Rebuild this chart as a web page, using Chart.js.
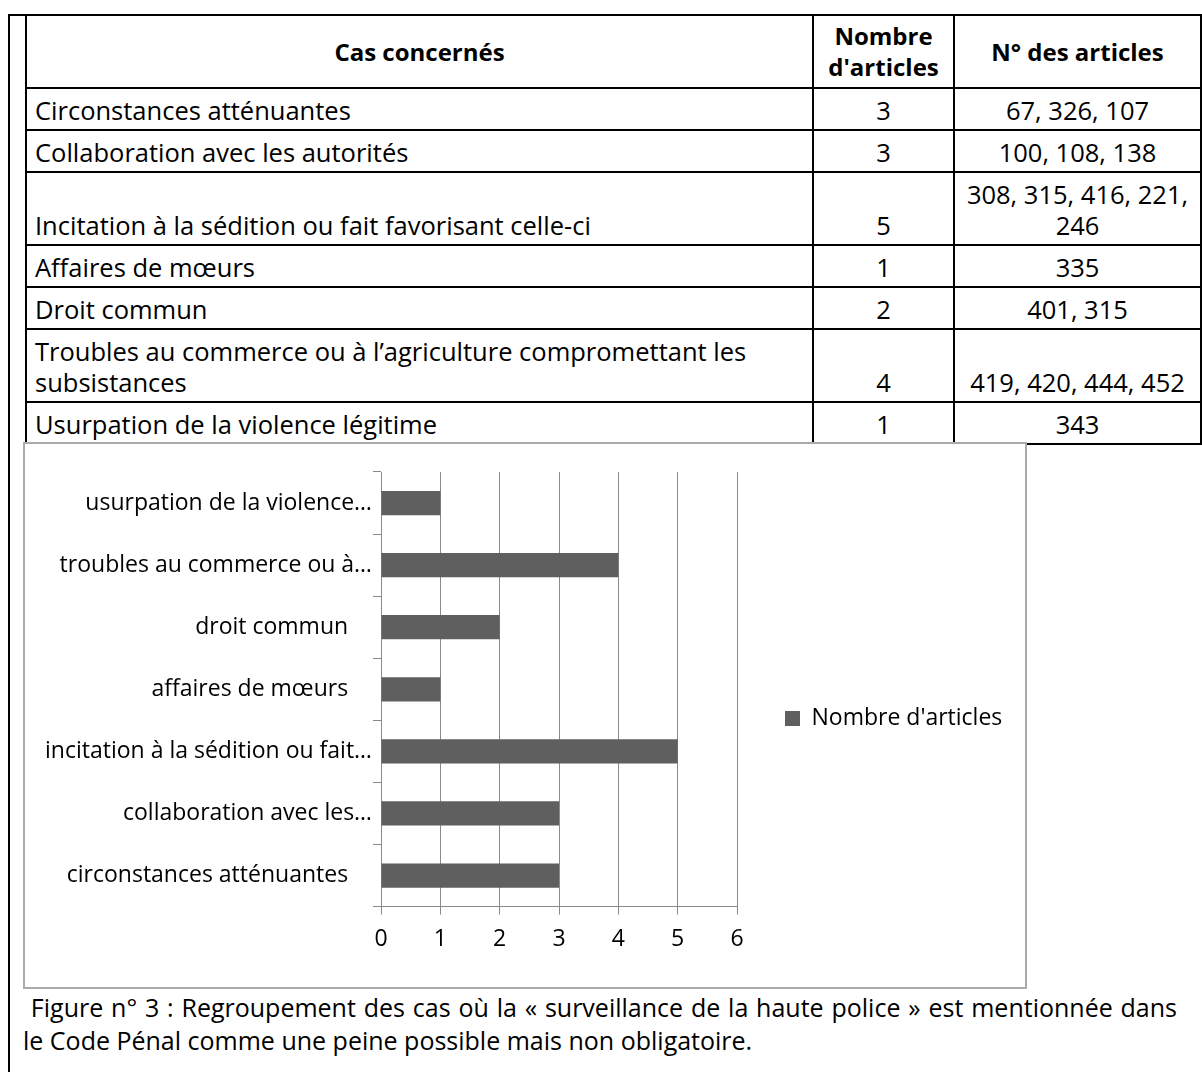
<!DOCTYPE html>
<html lang="fr">
<head>
  <meta charset="UTF-8" />
  <title>Surveillance de la haute police</title>
  <script src="https://cdn.jsdelivr.net/npm/chart.js"></script>
  <style>
    body { margin: 0; background: #fff; font-family: "Open Sans", sans-serif; color: #000; }
    #frame { position: absolute; left: 8px; top: 14px; width: 1300px; height: 1200px;
             border-left: 2px solid #000; border-top: 2px solid #000; }
    table { position: absolute; left: 25px; top: 14px; border-collapse: collapse;
            table-layout: fixed; width: 1175px; font-size: 25.5px; line-height: 31px; }
    td, th { border: 2px solid #000; padding: 6px 8px 3px 8px; vertical-align: bottom; white-space: nowrap; }
    th { vertical-align: middle; text-align: center; font-weight: bold; font-size: 24px; padding: 4px 4px 5px 4px; }
    td.c { text-align: center; }
    #chartBox { position: absolute; left: 23px; top: 442px; width: 1000px; height: 543px;
                border: 2px solid #ababab; background: #fff; }
    #caption { position: absolute; left: 23px; top: 991px; width: 1154px; font-size: 25px; line-height: 33px; }
    #caption .l1 { text-align: justify; text-align-last: justify; white-space: normal; }
    #caption .l2 { white-space: nowrap; }
  </style>
</head>
<body>
  <div id="frame"></div>
  <table id="casTable">
    <colgroup><col style="width:787px"><col style="width:141px"><col style="width:247px"></colgroup>
    <thead>
      <tr><th>Cas concernés</th><th>Nombre<br>d'articles</th><th>N° des articles</th></tr>
    </thead>
    <tbody></tbody>
  </table>
  <div id="chartBox"><canvas id="casChart" width="1000" height="543"></canvas></div>
  <div id="caption">
    <div class="l1">&nbsp;Figure n° 3 : Regroupement des cas où la « surveillance de la haute police » est mentionnée dans</div>
    <div class="l2">le Code Pénal comme une peine possible mais non obligatoire.</div>
  </div>

  <script>
    // table rows (lines of the wrapped cells kept as separate strings)
    const tableCases = [
      ['Circonstances atténuantes'],
      ['Collaboration avec les autorités'],
      ['Incitation à la sédition ou fait favorisant celle-ci'],
      ['Affaires de mœurs'],
      ['Droit commun'],
      ['Troubles au commerce ou à l’agriculture compromettant les', 'subsistances'],
      ['Usurpation de la violence légitime']
    ];
    const tableArticles = [
      ['67, 326, 107'],
      ['100, 108, 138'],
      ['308, 315, 416, 221,', '246'],
      ['335'],
      ['401, 315'],
      ['419, 420, 444, 452'],
      ['343']
    ];

    // chart data, bottom to top as in the original
    const categories = [
      'circonstances atténuantes',
      'collaboration avec les…',
      'incitation à la sédition ou fait…',
      'affaires de mœurs',
      'droit commun',
      'troubles au commerce ou à…',
      'usurpation de la violence…'
    ];
    const counts = [3, 3, 5, 1, 2, 4, 1];
    const seriesName = "Nombre d'articles";
    const xMin = 0, xMax = 6, xStep = 1;

    const tbody = document.querySelector('#casTable tbody');
    tableCases.forEach((lines, i) => {
      const tr = document.createElement('tr');
      tr.innerHTML = '<td>' + lines.join('<br>') + '</td>' +
                     '<td class="c">' + counts[i] + '</td>' +
                     '<td class="c">' + tableArticles[i].join('<br>') + '</td>';
      tbody.appendChild(tr);
    });

    const gridGray = '#8a8a8a';
    const fontSize = 23;
    const font = { family: 'Open Sans', size: fontSize };

    // legend sits to the right of the plot; pad so the plot ends at x=712
    const mctx = document.createElement('canvas').getContext('2d');
    mctx.font = 'normal ' + fontSize + 'px Open Sans';
    const legendText = mctx.measureText(seriesName).width;
    const legendPad = 48, legendBox = 15;
    const legendWidth = legendPad + legendBox + fontSize / 2 + legendText + 10;
    const padRight = Math.max(0, 1000 - 712 - legendWidth);

    new Chart(document.getElementById('casChart'), {
      type: 'bar',
      data: {
        labels: categories,
        datasets: [{
          label: seriesName,
          data: counts,
          backgroundColor: '#5f5f5f',
          borderWidth: 0,
          barPercentage: 0.39,
          categoryPercentage: 1
        }]
      },
      options: {
        indexAxis: 'y',
        responsive: false,
        animation: false,
        layout: { padding: { top: 28, bottom: 22, left: 0, right: padRight } },
        plugins: {
          tooltip: { enabled: false },
          legend: {
            position: 'right',
            maxWidth: 400,
            labels: { boxWidth: legendBox, boxHeight: legendBox, padding: legendPad, color: '#000', font: font }
          }
        },
        scales: {
          x: {
            min: xMin, max: xMax,
            ticks: { stepSize: xStep, color: '#000', font: { family: 'Open Sans', size: fontSize, lineHeight: 0.8 },
                     padding: 16, maxRotation: 0 },
            grid: { color: gridGray, lineWidth: 1, tickLength: 8 },
            border: { color: gridGray, width: 1 }
          },
          y: {
            reverse: true,
            afterFit: (scale) => { scale.width = 356; },
            ticks: {
              color: '#000', font: font, padding: 1, autoSkip: false,
              callback: function (v) {
                const t = this.getLabelForValue(v);
                return t.endsWith('…') ? t : t + '\u00a0\u00a0\u00a0\u00a0';
              }
            },
            grid: { drawOnChartArea: false, offset: true, color: gridGray, tickLength: 8 },
            border: { color: gridGray, width: 1 }
          }
        }
      }
    });
  </script>
</body>
</html>
